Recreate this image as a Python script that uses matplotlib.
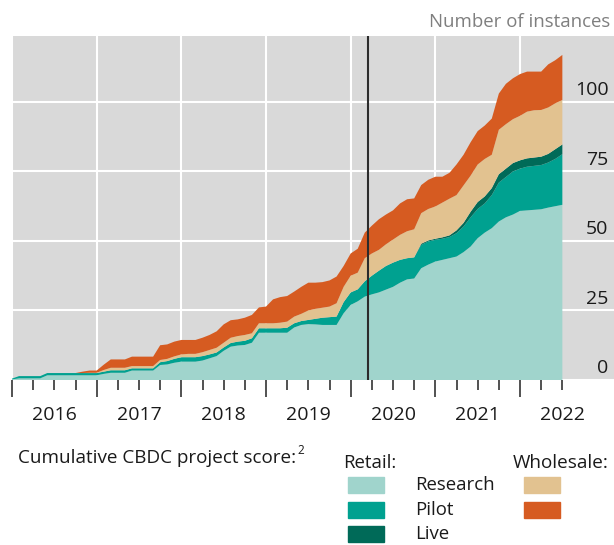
import numpy as np
import matplotlib.pyplot as plt
import matplotlib.transforms as mtransforms
from matplotlib.patches import Rectangle

plt.rcParams['font.family'] = ['Open Sans', 'DejaVu Sans']

# monthly values, Jan 2016 .. Jul 2022
retail_research = [0.2, 0.6, 0.6, 0.6, 0.6, 1.7, 1.7, 1.7, 1.7, 1.7,
                   1.7, 1.7, 1.7, 2.2, 2.6, 2.6, 2.6, 3.4, 3.4, 3.4,
                   3.4, 5.4, 5.6, 6.2, 6.6, 6.6, 6.6, 7.0, 7.8, 8.6,
                   10.5, 12.0, 12.4, 12.6, 13.4, 17.0, 17.0, 17.0, 17.0, 17.0,
                   18.9, 19.8, 20.1, 20.0, 19.8, 19.8, 19.8, 24.0, 27.0, 28.3,
                   30.0, 30.8, 31.5, 32.5, 33.5, 35.0, 36.2, 36.5, 40.2, 41.5,
                   42.6, 43.2, 43.8, 44.4, 46.0, 48.0, 51.0, 53.0, 54.6, 57.0,
                   58.5, 59.5, 60.8, 61.0, 61.2, 61.4, 62.0, 62.5, 63.0]
retail_pilot = [0.3, 0.8, 0.8, 0.8, 0.8, 0.8, 0.8, 0.8, 0.8, 0.8,
                0.8, 0.8, 0.8, 0.8, 0.9, 0.9, 0.9, 0.8, 0.8, 0.8,
                0.8, 1.0, 1.2, 1.4, 1.6, 1.6, 1.6, 1.6, 1.4, 1.3,
                1.2, 1.3, 1.4, 1.5, 1.6, 1.6, 1.6, 1.6, 1.6, 1.8,
                1.5, 1.4, 1.5, 2.0, 2.6, 2.8, 3.0, 4.0, 4.5, 4.3,
                5.5, 6.7, 7.8, 8.5, 8.7, 8.2, 7.6, 7.6, 8.4, 8.3,
                7.8, 7.6, 7.6, 8.4, 9.2, 10.5, 10.5, 10.5, 11.9, 14.0,
                14.5, 15.5, 15.2, 15.7, 15.8, 15.9, 16.2, 17.0, 18.2]
retail_live = [0] * 58 + [0.4, 0.4, 0.4, 0.5, 0.6, 1.0, 1.3, 2.0, 2.5, 2.5,
                          2.5, 3.0, 3.0, 3.0, 3.0, 3.0, 3.0, 3.0, 3.1, 3.5, 3.5]
wholesale_research = [0, 0, 0, 0, 0, 0, 0, 0, 0, 0,
                      0, 0.1, 0.1, 0.6, 0.9, 0.9, 0.9, 0.8, 0.8, 0.8,
                      0.8, 0.8, 0.8, 0.9, 1.0, 1.2, 1.2, 1.4, 1.6, 1.7,
                      1.7, 1.9, 2.0, 2.1, 1.8, 1.8, 1.8, 1.8, 2.0, 2.2,
                      2.4, 2.6, 3.4, 3.6, 3.6, 3.8, 4.8, 5.5, 6.0, 6.0,
                      8.3, 8.0, 7.5, 7.8, 8.3, 9.0, 9.7, 10.1, 11.0, 11.3,
                      11.6, 12.5, 13.2, 12.7, 13.5, 13.0, 13.5, 13.5, 12.0, 16.0,
                      16.0, 15.8, 16.0, 16.8, 17.0, 16.8, 16.7, 16.5, 16.0]
wholesale_pilot = [0, 0, 0, 0, 0, 0, 0, 0, 0, 0,
                   0.5, 0.8, 0.8, 1.9, 3.0, 3.0, 3.0, 3.4, 3.4, 3.4,
                   3.4, 5.3, 5.2, 5.3, 5.2, 5.0, 5.0, 5.2, 5.4, 5.9,
                   6.6, 6.3, 6.0, 6.2, 6.6, 5.7, 6.0, 8.6, 9.2, 9.2,
                   9.0, 9.7, 10.0, 9.4, 9.2, 9.4, 9.6, 7.5, 8.0, 8.6,
                   9.2, 10.0, 11.0, 10.7, 10.5, 11.3, 11.5, 11.1, 10.1, 10.5,
                   10.7, 9.3, 9.3, 11.0, 11.0, 12.0, 12.0, 12.0, 13.0, 13.0,
                   14.5, 14.7, 15.0, 14.4, 13.9, 13.8, 15.5, 15.5, 16.2]

years = [2016, 2017, 2018, 2019, 2020, 2021, 2022]
yticks = [0, 25, 50, 75, 100]
covid_line = 2020 + 2.5 / 12

colors = ['#a0d4cc', '#00a190', '#006a58', '#e2c290', '#d65b21']

t = 2016 + np.arange(len(retail_research)) / 12

fig = plt.figure(figsize=(6.14, 5.45), dpi=100)
ax = fig.add_axes([12 / 614, 1 - 380 / 545, 602 / 614, 344 / 545])
ax.set_facecolor('#d9d9d9')

ax.stackplot(t, retail_research, retail_pilot, retail_live,
             wholesale_research, wholesale_pilot, colors=colors, lw=0)

ax.axvline(covid_line, color='#2b2b2b', lw=1.5, zorder=5)

ax.set_xlim(2016, 2023.11)
ax.set_ylim(0, 123.7)

for s in ax.spines.values():
    s.set_visible(False)

ax.set_yticks(yticks)
ax.set_xticks(years)
quarters = [y + q for y in years for q in (0.25, 0.5, 0.75) if y + q <= 2022.5]
ax.set_xticks(quarters, minor=True)
ax.grid(True, which='major', color='white', lw=1.5)
ax.set_axisbelow(True)
ax.tick_params(axis='y', left=False, labelleft=False)
ax.tick_params(axis='x', which='major', direction='out', length=12, width=1.2,
               color='#333333', labelbottom=False)
ax.tick_params(axis='x', which='minor', direction='out', length=7, width=1.2,
               color='#333333')

for v in yticks:
    ax.annotate(str(v), xy=(1, v), xycoords=('axes fraction', 'data'),
                xytext=(-4, 2), textcoords='offset points',
                ha='right', va='bottom', fontsize=14, color='#1a1a1a')

trans = mtransforms.blended_transform_factory(ax.transData, ax.transAxes)
for y in years:
    ax.text(y + 0.5, -0.102, str(y), transform=trans, ha='center',
            va='center', fontsize=14, color='#1a1a1a')

fig.text(610 / 614, 1 - 22 / 545, 'Number of instances', ha='right',
         va='center', fontsize=13.4, color='#7f7f7f')

# legend
fig.text(18 / 614, 1 - 458 / 545, 'Cumulative CBDC project score:',
         ha='left', va='center', fontsize=13.6, color='#1a1a1a')
fig.text(297 / 614, 1 - 451 / 545, '2', ha='left', va='center',
         fontsize=8.5, color='#1a1a1a')
fig.text(343 / 614, 1 - 463 / 545, 'Retail:', ha='left', va='center',
         fontsize=13.4, color='#1a1a1a')
fig.text(513 / 614, 1 - 463 / 545, 'Wholesale:', ha='left', va='center',
         fontsize=13.6, color='#1a1a1a')
rows = [485, 510, 534]
for lab, c, yy in zip(['Research', 'Pilot', 'Live'], colors[:3], rows):
    fig.patches.append(Rectangle((348 / 614, 1 - (yy + 8) / 545), 36 / 614,
                                 16 / 545, transform=fig.transFigure,
                                 color=c))
    fig.text(415 / 614, 1 - yy / 545, lab, ha='left', va='center',
             fontsize=13.4, color='#1a1a1a')
for c, yy in zip(colors[3:], rows[:2]):
    fig.patches.append(Rectangle((524 / 614, 1 - (yy + 8) / 545), 36 / 614,
                                 16 / 545, transform=fig.transFigure,
                                 color=c))

plt.savefig('out.png', dpi=100)
